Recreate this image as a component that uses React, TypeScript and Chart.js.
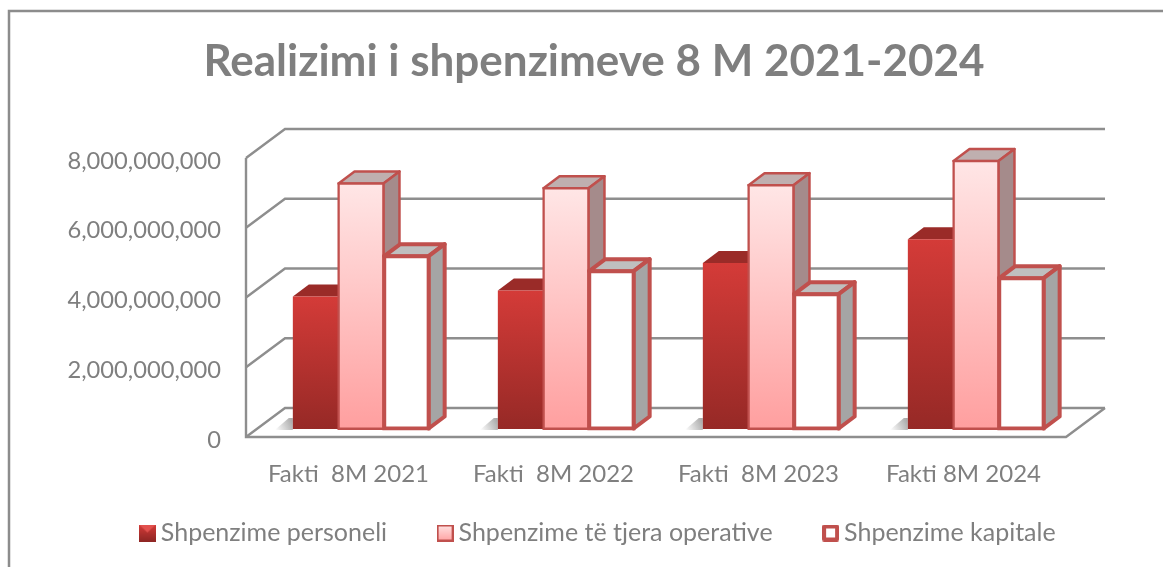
import React, { useEffect, useRef } from "react";
import { Chart, registerables } from "chart.js";

Chart.register(...registerables);

const categories = ["Fakti  8M 2021", "Fakti  8M 2022", "Fakti  8M 2023", "Fakti 8M 2024"];
const personeli = [3.8e9, 3.97e9, 4.76e9, 5.44e9];
const operative = [7.05e9, 6.91e9, 7.0e9, 7.69e9];
const kapitale = [4.97e9, 4.54e9, 3.88e9, 4.34e9];
const seriesNames = ["Shpenzime personeli", "Shpenzime të tjera operative", "Shpenzime kapitale"];
const titleText = "Realizimi i shpenzimeve 8 M 2021-2024";

const TEXT = "#7F7F7F";
const WALL = "#8E8E8E";
const EDGE = "#C0504D";
const FONT = "Lato, Carlito, Calibri, sans-serif";

// projected depth of the walls, of the bar plane and of a bar
const WALL_D = { x: 39, y: -29 };
const BAR_PLANE = { x: 12.5, y: -8 };
const BAR_D = { x: 16, y: -12 };

const sideColors = ["#8E2624", "#A58B8B", "#A5A5A5"];
const topColors = ["#9A2B28", "#BFAFAF", "#BFBFBF"];

function vGrad(ctx: CanvasRenderingContext2D, y0: number, y1: number, a: string, b: string) {
  const g = ctx.createLinearGradient(0, y0, 0, y1);
  g.addColorStop(0, a);
  g.addColorStop(1, b);
  return g;
}

function marker(kind: number) {
  const c = document.createElement("canvas");
  c.width = 17;
  c.height = 17;
  const x = c.getContext("2d")!;
  if (kind === 0) {
    x.fillStyle = vGrad(x, 0, 17, "#D43B38", "#8E2624");
    x.fillRect(0, 0, 17, 17);
    x.fillStyle = "#E2514E";
    x.beginPath();
    x.moveTo(0, 0);
    x.lineTo(17, 0);
    x.lineTo(8.5, 8);
    x.closePath();
    x.fill();
  } else if (kind === 1) {
    x.fillStyle = vGrad(x, 0, 17, "#FFE5E5", "#FFA0A0");
    x.fillRect(1, 1, 15, 15);
    x.strokeStyle = EDGE;
    x.lineWidth = 2;
    x.strokeRect(1, 1, 15, 15);
  } else {
    x.fillStyle = "#FFFFFF";
    x.fillRect(1, 1, 15, 15);
    x.strokeStyle = EDGE;
    x.lineWidth = 4;
    x.lineJoin = "round";
    x.strokeRect(2, 2, 13, 13);
  }
  return c;
}

const scene3d = {
  id: "scene3d",
  afterLayout(chart: any) {
    // the title and legend are centred on the whole plot with its depth, not on the front plane
    const t = chart.titleBlock;
    t.left += 46;
    t.right += 46;
    const l = chart.legend;
    l.left += 53;
    l.right += 53;
    // leave the category labels room below the axis, over the legend's own top padding
    chart.scales.x.bottom = chart.scales.x.top + 60;
    chart.scales.x.height = 60;
  },
  beforeDraw(chart: any) {
    const { ctx } = chart;
    ctx.save();
    ctx.strokeStyle = "#8C8C8C";
    ctx.lineWidth = 2.5;
    ctx.beginPath();
    ctx.moveTo(9, chart.height);
    ctx.lineTo(9, 11);
    ctx.lineTo(chart.width, 11);
    ctx.stroke();
    ctx.restore();
  },
  beforeDatasetsDraw(chart: any) {
    const { ctx, chartArea: a, scales } = chart;
    const y = scales.y;
    ctx.save();
    ctx.strokeStyle = WALL;
    ctx.lineWidth = 2.4;
    ctx.lineJoin = "miter";
    // back wall lines and left wall diagonals
    for (const t of y.ticks) {
      const p = y.getPixelForValue(t.value);
      ctx.beginPath();
      ctx.moveTo(a.left, p);
      ctx.lineTo(a.left + WALL_D.x, p + WALL_D.y);
      ctx.lineTo(a.right + WALL_D.x, p + WALL_D.y);
      ctx.stroke();
    }
    // left front edge and floor outline
    ctx.beginPath();
    ctx.moveTo(a.left, y.getPixelForValue(y.max));
    ctx.lineTo(a.left, a.bottom);
    ctx.lineTo(a.right, a.bottom);
    ctx.lineTo(a.right + WALL_D.x, a.bottom + WALL_D.y);
    ctx.stroke();

    ctx.translate(BAR_PLANE.x, BAR_PLANE.y);
    const metas = [0, 1, 2].map((i) => chart.getDatasetMeta(i));
    categories.forEach((_c, i) => {
      // soft floor shadow on the left of each group
      const first = metas[0].data[i];
      const left = first.x - first.width / 2;
      const sg = ctx.createLinearGradient(left - 18, first.base, left, first.base - 8);
      sg.addColorStop(0, "rgba(110,110,110,0)");
      sg.addColorStop(1, "rgba(110,110,110,0.6)");
      ctx.fillStyle = sg;
      ctx.beginPath();
      ctx.moveTo(left - 18, first.base + 1);
      ctx.lineTo(left, first.base + 1);
      ctx.lineTo(left, first.base - 11);
      ctx.lineTo(left - 4, first.base - 11);
      ctx.closePath();
      ctx.fill();

      metas.forEach((m, s) => {
        const el = m.data[i];
        const grow = el.inflateAmount || 0;
        const l = el.x - el.width / 2;
        const r = el.x + el.width / 2;
        const lw = el.options.borderWidth || 0;
        ctx.strokeStyle = EDGE;
        ctx.lineWidth = lw;
        ctx.lineJoin = "round";
        const inset = lw / 2 - grow;
        // top face
        ctx.fillStyle = topColors[s];
        ctx.beginPath();
        ctx.moveTo(l + inset, el.y + inset);
        ctx.lineTo(l + inset + BAR_D.x, el.y + inset + BAR_D.y);
        ctx.lineTo(r - inset + BAR_D.x, el.y + inset + BAR_D.y);
        ctx.lineTo(r - inset, el.y + inset);
        ctx.closePath();
        ctx.fill();
        if (lw) ctx.stroke();
        // side face
        ctx.fillStyle = sideColors[s];
        ctx.beginPath();
        ctx.moveTo(r - inset, el.y + inset);
        ctx.lineTo(r - inset + BAR_D.x, el.y + inset + BAR_D.y);
        ctx.lineTo(r - inset + BAR_D.x, el.base - inset + BAR_D.y);
        ctx.lineTo(r - inset, el.base - inset);
        ctx.closePath();
        ctx.fill();
        if (lw) ctx.stroke();
        // front face through the library's bar element
        el.draw(ctx, a);
      });
    });
    ctx.restore();
    return false;
  },
};

export default function App() {
  const ref = useRef<HTMLCanvasElement>(null);
  useEffect(() => {
    document.body.style.margin = "0";
    document.body.style.background = "#FFFFFF";
    const grad = (top: string, bottom: string) => (c: any) => {
      const ch = c.chart;
      if (!ch.chartArea || c.parsed === undefined) return top;
      const sy = ch.scales.y;
      const y0 = sy.getPixelForValue(c.raw);
      return vGrad(ch.ctx, y0, sy.getPixelForValue(0), top, bottom);
    };
    const markers = [marker(0), marker(1), marker(2)];
    const chart = new Chart(ref.current!, {
      type: "bar",
      data: {
        labels: categories,
        datasets: [
          { label: seriesNames[0], data: personeli, backgroundColor: grad("#D43B38", "#962926"), borderColor: "#C0504D", borderWidth: 0, inflateAmount: 0 },
          { label: seriesNames[1], data: operative, backgroundColor: grad("#FFE6E6", "#FF9F9F"), borderColor: EDGE, borderWidth: 2.5, inflateAmount: 1 },
          { label: seriesNames[2], data: kapitale, backgroundColor: "#FFFFFF", borderColor: EDGE, borderWidth: 4, inflateAmount: 1.5 },
        ],
      },
      options: {
        responsive: false,
        animation: false,
        layout: { padding: { left: 30, right: 97, top: 0, bottom: 11.5 } },
        datasets: { bar: { categoryPercentage: 0.665, barPercentage: 1, borderSkipped: false } },
        scales: {
          x: {
            grid: { display: false, drawTicks: false },
            border: { display: false },
            ticks: { color: TEXT, font: { family: FONT, size: 24 }, padding: 22.7, maxRotation: 0, autoSkip: false },
            afterFit: (s: any) => { s.height = 26.5; },
          },
          y: {
            min: 0,
            max: 8e9,
            grid: { display: false, drawTicks: false },
            border: { display: false },
            ticks: {
              stepSize: 2e9,
              color: TEXT,
              font: { family: FONT, size: 23.7 },
              padding: 25,
              labelOffset: 3,
              callback: (v: any) => Number(v).toLocaleString("en-US"),
            },
            afterFit: (s: any) => { s.width = 216; },
          },
        },
        plugins: {
          tooltip: { enabled: false },
          title: {
            display: true,
            text: titleText,
            color: TEXT,
            font: { family: FONT, size: 44, weight: "bold", lineHeight: 1.2 },
            padding: { top: 35.6, bottom: 69.6 },
          },
          legend: {
            display: true,
            position: "bottom",
            labels: {
              color: TEXT,
              font: { family: FONT, size: 25 },
              usePointStyle: true,
              pointStyleWidth: 2,
              padding: 57,
              generateLabels: () =>
                seriesNames.map((text, i) => ({
                  text,
                  fontColor: TEXT,
                  pointStyle: markers[i],
                  fillStyle: EDGE,
                  strokeStyle: EDGE,
                  lineWidth: 0,
                  hidden: false,
                  datasetIndex: i,
                })),
            },
          },
        },
      } as any,
      plugins: [scene3d as any],
    });
    return () => chart.destroy();
  }, []);
  return <canvas ref={ref} width={1163} height={567} style={{ display: "block" }} />;
}
